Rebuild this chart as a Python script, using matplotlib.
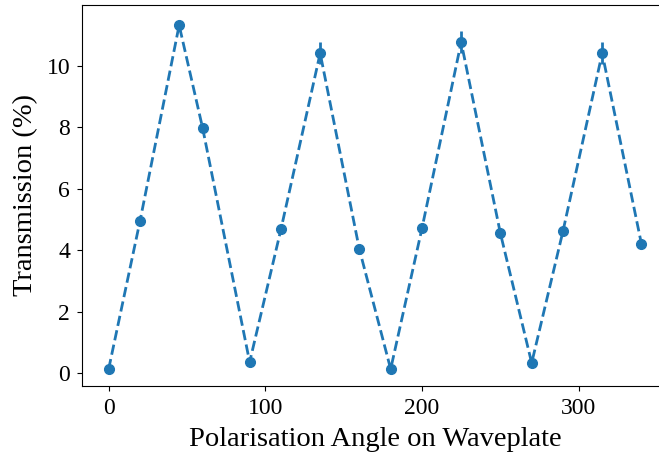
import matplotlib
matplotlib.use("Agg")
import matplotlib.pyplot as plt

angles = [0, 20, 45, 60, 90, 110, 135, 160, 180, 200, 225, 250, 270, 290, 315, 340]
transmission = [0.13, 4.95, 11.33, 7.98, 0.36, 4.69, 10.42, 4.04, 0.13, 4.72, 10.78, 4.56, 0.33, 4.63, 10.42, 4.22]
errors = [0.02, 0.1, 0.1, 0.1, 0.02, 0.1, 0.35, 0.1, 0.02, 0.1, 0.35, 0.1, 0.02, 0.1, 0.35, 0.1]

plt.rcParams['font.family'] = ['Liberation Serif', 'DejaVu Serif']
plt.rcParams['mathtext.fontset'] = 'stix'

fig = plt.figure(figsize=(6.59, 4.57), dpi=100)
ax = fig.add_axes([82/659, (457-386)/457, (668-82)/659, (386-5)/457])
ax.errorbar(angles, transmission, yerr=errors, fmt='o--', color='#1f77b4',
            linewidth=2, markersize=7)
ax.set_xlim(-17, 357)
ax.set_ylim(-0.42, 11.99)
ax.set_xticks([0, 100, 200, 300])
ax.set_yticks([0, 2, 4, 6, 8, 10])
ax.tick_params(labelsize=17, pad=5)
ax.set_xlabel('Polarisation Angle on Waveplate', fontsize=20.5, labelpad=6)
ax.set_ylabel('Transmission (%)', fontsize=20.5, labelpad=6)
fig.savefig('out.png', dpi=100)
